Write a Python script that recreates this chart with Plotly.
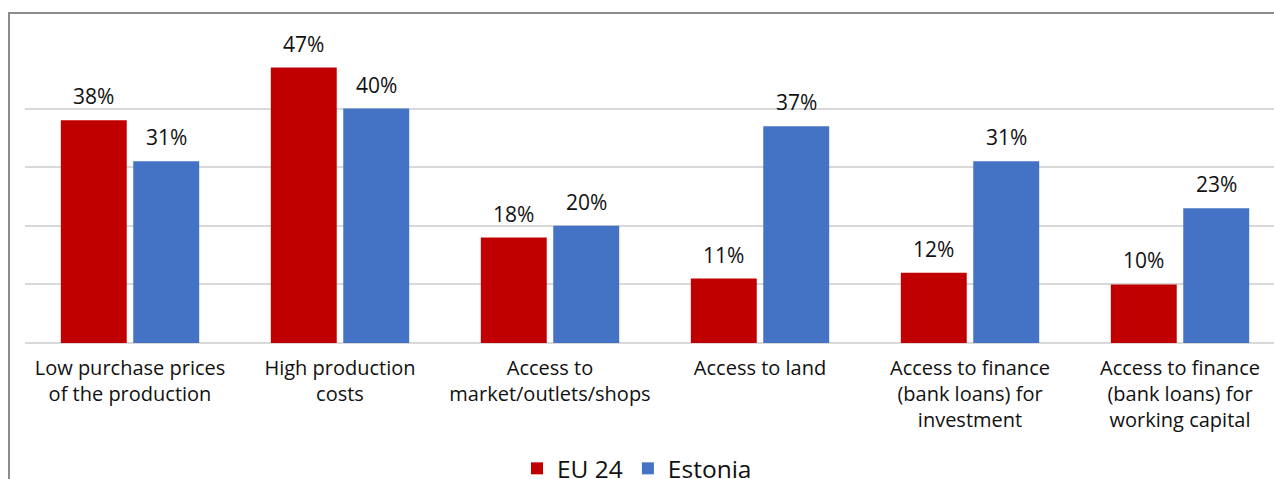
import plotly.graph_objects as go

# Survey: share of respondents naming each problem
categories = [
    "Low purchase prices<br>of the production",
    "High production<br>costs",
    "Access to<br>market/outlets/shops",
    "Access to land",
    "Access to finance<br>(bank loans) for<br>investment",
    "Access to finance<br>(bank loans) for<br>working capital",
]
eu24 = [38, 47, 18, 11, 12, 10]
estonia = [31, 40, 20, 37, 31, 23]
series_names = ["EU 24", "Estonia"]
colors = ["#C00000", "#4472C4"]

FONT = "Open Sans"
TEXT_COLOR = "#111111"
x = list(range(len(categories)))
bargap = 0.31
offset = (1 - bargap) / 4  # half of one bar slot

fig = go.Figure()
for name, vals, col in zip(series_names, [eu24, estonia], colors):
    fig.add_trace(go.Bar(x=x, y=vals, name=name, marker=dict(color=col, line=dict(width=0))))

# value labels above each bar
annotations = []
for vals, sign in [(eu24, -1), (estonia, 1)]:
    for i, v in enumerate(vals):
        annotations.append(dict(
            x=i + sign * offset, y=v, xref="x", yref="y",
            text=f"{v}%", showarrow=False, yanchor="bottom", yshift=8,
            font=dict(family=FONT, size=21, color=TEXT_COLOR),
        ))

plot_left = 25
plot_w = 1274 - plot_left
px_per_cat = 210

fig.update_layout(
    width=1274, height=479,
    margin=dict(l=plot_left, r=0, t=50, b=136, autoexpand=False),
    paper_bgcolor="white", plot_bgcolor="white",
    barmode="group", bargap=bargap, bargroupgap=0.09,
    font=dict(family=FONT, size=20, color=TEXT_COLOR),
    annotations=annotations,
    showlegend=True,
    legend=dict(
        orientation="h", x=0.49, xanchor="center", y=-0.428, yanchor="middle",
        font=dict(family=FONT, size=24.5, color=TEXT_COLOR),
        itemwidth=30, bgcolor="rgba(0,0,0,0)",
    ),
    shapes=[dict(
        type="rect", xref="paper", yref="paper",
        x0=(9 - plot_left) / plot_w, x1=1.05,
        y0=-0.8, y1=(343 - 13) / 293,
        line=dict(color="#8c8c8c", width=2), fillcolor="rgba(0,0,0,0)", layer="below",
    )],
)
fig.update_xaxes(
    tickmode="array", tickvals=x, ticktext=categories,
    range=[-0.5, -0.5 + plot_w / px_per_cat],
    showgrid=False, showline=False, zeroline=False, automargin=False,
    ticks="", ticklabelstandoff=11,
    tickfont=dict(family=FONT, size=20, color=TEXT_COLOR),
)
fig.update_yaxes(
    range=[0, 50], dtick=10, showticklabels=False, automargin=False,
    showgrid=True, gridcolor="#d9d9d9", gridwidth=1.5,
    zeroline=True, zerolinecolor="#d9d9d9", zerolinewidth=2,
)

fig.write_html("out.html")
